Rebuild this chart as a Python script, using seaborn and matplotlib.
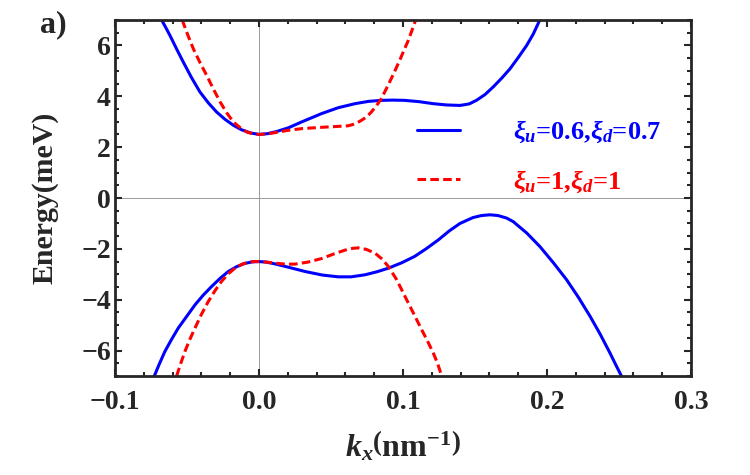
import seaborn as sns
import matplotlib.pyplot as plt
import pandas as pd
from matplotlib.lines import Line2D
from matplotlib.ticker import MultipleLocator

# upper/lower bands for the two parameter sets
k_blue_up = [-0.0676, -0.0647, -0.0618, -0.0572, -0.0526, -0.047, -0.041, -0.035, -0.0294,
             -0.0235, -0.0178, -0.012, -0.006, 0.0, 0.006, 0.012, 0.0204, 0.030, 0.0435,
             0.055, 0.0667, 0.076, 0.085, 0.093, 0.101, 0.111, 0.121, 0.130, 0.1396,
             0.146, 0.151, 0.157, 0.1627, 0.1685, 0.1743, 0.180, 0.1859, 0.1905, 0.195]
e_blue_up = [7.0, 6.7, 6.39, 5.86, 5.35, 4.75, 4.17, 3.73, 3.38,
             3.09, 2.86, 2.68, 2.56, 2.5, 2.53, 2.61, 2.76, 3.0, 3.32,
             3.55, 3.71, 3.8, 3.84, 3.85, 3.84, 3.79, 3.71, 3.66, 3.64,
             3.7, 3.84, 4.07, 4.37, 4.71, 5.08, 5.52, 6.0, 6.45, 7.0]

k_red_up = [-0.0533, -0.0495, -0.0456, -0.041, -0.0363, -0.0316, -0.027, -0.0224, -0.0178,
            -0.013, -0.0086, -0.004, 0.0, 0.005, 0.010, 0.020, 0.030, 0.0435, 0.053,
            0.062, 0.067, 0.0713, 0.075, 0.078, 0.0815, 0.085, 0.0898, 0.094, 0.098,
            0.101, 0.1037, 0.1063, 0.1088]
e_red_up = [7.0, 6.42, 5.87, 5.33, 4.82, 4.28, 3.78, 3.35, 2.99,
            2.76, 2.6, 2.52, 2.5, 2.52, 2.56, 2.66, 2.73, 2.78, 2.81,
            2.84, 2.92, 3.06, 3.2, 3.38, 3.62, 3.91, 4.45, 4.95, 5.45,
            5.85, 6.2, 6.6, 7.0]

k_blue_dn = [-0.0727, -0.069, -0.0653, -0.0607, -0.056, -0.050, -0.0444, -0.0387, -0.0329,
             -0.027, -0.0213, -0.0155, -0.0097, -0.0045, 0.0, 0.005, 0.011, 0.021, 0.032,
             0.044, 0.055, 0.064, 0.0736, 0.082, 0.0898, 0.099, 0.108, 0.116, 0.1245,
             0.132, 0.1396, 0.1486, 0.1545, 0.1604, 0.166, 0.172, 0.1766, 0.186, 0.1951,
             0.2045, 0.2137, 0.222, 0.2299, 0.237, 0.2437, 0.2477, 0.2517]
e_blue_dn = [-7.0, -6.5, -6.03, -5.56, -5.11, -4.64, -4.2, -3.82, -3.48,
             -3.16, -2.89, -2.7, -2.57, -2.51, -2.5, -2.52, -2.59, -2.73, -2.89,
             -3.03, -3.1, -3.1, -3.02, -2.9, -2.76, -2.55, -2.3, -2.0, -1.65,
             -1.3, -1.0, -0.77, -0.69, -0.66, -0.69, -0.79, -0.93, -1.38, -1.91,
             -2.55, -3.22, -3.92, -4.65, -5.36, -6.09, -6.55, -7.0]

k_red_dn = [-0.0572, -0.0543, -0.0514, -0.048, -0.0444, -0.040, -0.0352, -0.0306, -0.026,
            -0.0213, -0.0167, -0.012, -0.0074, -0.0035, 0.0, 0.005, 0.011, 0.018, 0.025,
            0.034, 0.0435, 0.052, 0.0597, 0.065, 0.069, 0.0745, 0.0806, 0.0855, 0.0898,
            0.0955, 0.1014, 0.107, 0.113, 0.117, 0.121, 0.124, 0.1269]
e_red_dn = [-7.0, -6.5, -6.03, -5.56, -5.11, -4.58, -4.07, -3.65, -3.28,
            -2.98, -2.76, -2.61, -2.53, -2.5, -2.5, -2.52, -2.56, -2.6, -2.6,
            -2.52, -2.38, -2.2, -2.05, -1.98, -1.96, -2.02, -2.17, -2.4, -2.69,
            -3.2, -3.87, -4.5, -5.18, -5.62, -6.09, -6.5, -7.0]

cases = [r"$\xi_u$=0.6,$\xi_d$=0.7", r"$\xi_u$=1,$\xi_d$=1"]
x_ticks = [-0.1, 0.0, 0.1, 0.2, 0.3]
x_labels = ["\u22120.1", "0.0", "0.1", "0.2", "0.3"]
y_ticks = [-6, -4, -2, 0, 2, 4, 6]
y_labels = ["\u22126", "\u22124", "\u22122", "0", "2", "4", "6"]

parts = []
for k, e, case, band in [(k_blue_up, e_blue_up, cases[0], "up0"),
                         (k_blue_dn, e_blue_dn, cases[0], "dn0"),
                         (k_red_up, e_red_up, cases[1], "up1"),
                         (k_red_dn, e_red_dn, cases[1], "dn1")]:
    parts.append(pd.DataFrame({"k": k, "E": e, "case": case, "band": band}))
df = pd.concat(parts, ignore_index=True)

sns.set_style("ticks")
plt.rcParams["font.family"] = ["Liberation Serif", "DejaVu Serif"]
plt.rcParams["font.weight"] = "bold"
plt.rcParams["mathtext.fontset"] = "custom"
plt.rcParams["mathtext.rm"] = "Liberation Serif:bold"
plt.rcParams["mathtext.it"] = "Liberation Serif:bold:italic"
plt.rcParams["mathtext.bf"] = "Liberation Serif:bold"

fig = plt.figure(figsize=(7.5, 4.75), dpi=100)
ax = fig.add_axes([0.1533, 0.2084, 0.768, 0.7495])

palette = {cases[0]: "#0000ff", cases[1]: "#ff0000"}
dashes = {cases[0]: "", cases[1]: (2.8, 1.4)}

ax.axhline(0, color="#999999", lw=0.7, zorder=0)
ax.axvline(0, color="#999999", lw=0.7, zorder=0)

sns.lineplot(data=df, x="k", y="E", hue="case", style="case", units="band",
             estimator=None, palette=palette, dashes=dashes, lw=2.2,
             legend=False, ax=ax)

ax.set_xlim(-0.1, 0.3)
ax.set_ylim(-7, 7)
ax.set_xticks(x_ticks, x_labels)
ax.set_yticks(y_ticks, y_labels)
ax.xaxis.set_minor_locator(MultipleLocator(0.02))
ax.yaxis.set_minor_locator(MultipleLocator(0.5))
ax.tick_params(which="both", direction="in", top=True, right=True, width=1.5,
               labelsize=20)
ax.tick_params(which="major", length=5)
ax.tick_params(which="minor", length=3)
ax.tick_params(axis="x", pad=10)
ax.tick_params(axis="y", pad=3)
for lab in ax.get_xticklabels() + ax.get_yticklabels():
    lab.set_fontweight("bold")
for sp in ax.spines.values():
    sp.set_linewidth(2)

ax.set_xlabel(r"$k_x\left(\mathrm{nm}^{-1}\right)$", fontsize=23, labelpad=10)
ax.set_ylabel("Energy(meV)", fontsize=21.5, fontweight="bold", labelpad=16)
fig.text(0.053, 0.933, "a)", fontsize=23, fontweight="bold")

handles = [Line2D([], [], color=palette[c], lw=2.2, linestyle="-") for c in cases]
handles[1].set_dashes(dashes[cases[1]])
leg = ax.legend(handles, cases, loc="upper left", bbox_to_anchor=(0.524, 0.722),
                frameon=False, fontsize=19, handlelength=1.63, handletextpad=2.0,
                labelspacing=0.88, borderpad=0, borderaxespad=0)
for t, c in zip(leg.get_texts(), cases):
    t.set_color(palette[c])

fig.savefig("out.png", dpi=100)
